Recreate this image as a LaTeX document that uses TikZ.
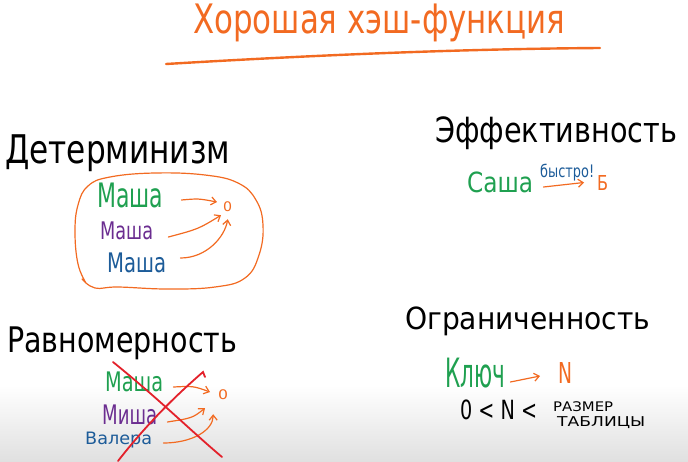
\documentclass[tikz,border=0pt]{standalone}
\usepackage{fontspec}
\setmainfont{DejaVu Sans}
\newfontfamily\hand{DejaVu Sans}
\usetikzlibrary{arrows.meta,calc}
\definecolor{hor}{HTML}{F26A21}
\definecolor{hgreen}{HTML}{1FA050}
\definecolor{hpurple}{HTML}{6B2D90}
\definecolor{hblue}{HTML}{1D5C99}
\definecolor{hred}{HTML}{E3212B}
\newcommand{\fitbox}[3]{\resizebox*{#1pt}{#2pt}{\hand #3}}
\begin{document}
\begin{tikzpicture}[x=1pt,y=-1pt,
  txt/.style={inner sep=0pt, anchor=west},
  arr/.style={draw=hor, line width=1.2pt, line cap=round, -{Straight Barb[length=5pt,width=8pt]}},
  redline/.style={draw=hred, line width=1.8pt, line cap=round}]
\useasboundingbox (0,0) rectangle (688,461);
\shade[top color=white,bottom color=black!12] (0,385) rectangle (688,461);

% title
\node[txt, text=hor] (title) at (193,23) {\fitbox{372}{38}{Хорошая хэш-функция}};
\draw[hor, line width=2.4pt, line cap=round] (166,64) .. controls (300,56) and (450,49) .. (600,48);

% Determinism
\node[txt] (det) at (5,153.5) {\fitbox{225}{37}{Детерминизм}};
\node[txt, text=hgreen] (m1) at (97,195.5) {\fitbox{66}{25}{Маша}};
\node[txt, text=hpurple] (m2) at (100,231) {\fitbox{53}{18}{Маша}};
\node[txt, text=hblue] (m3) at (107,263) {\fitbox{59}{20}{Маша}};
\node[txt, text=hor] (z1) at (223,207) {\fitbox{9}{10}{0}};
\draw[arr] ($(m1.east)+(18,4.5)$) .. controls ($(m1.east)+(35,3)$) .. ($(z1.west)+(-6,-5)$);
\draw[arr] ($(m2.east)+(15,6)$) .. controls ($(m2.east)+(45,-2)$) .. ($(z1.south west)+(-2,3)$);
\draw[arr] ($(m3.east)+(14,-5)$) .. controls ($(m3.east)+(40,-5)$) and ($(z1.south)+(-3,25)$) .. ($(z1.south)+(0,7)$);
\draw[hor, line width=1.2pt, line cap=round] plot[smooth, tension=0.7] coordinates {(86,283) (78,264) (75,232) (78,205) (88,186) (110,177) (155,173) (205,175) (238,183) (256,200) (263,225) (259,255) (245,278) (215,287) (167,289) (118,287) (95,288) (82,279)};

% Efficiency
\node[txt] (eff) at (435,133.5) {\fitbox{242}{33}{Эффективность}};
\node[txt, text=hgreen] (s) at (467,182.5) {\fitbox{66}{21}{Саша}};
\node[txt, text=hblue] (fast) at (540,172.5) {\fitbox{54}{17}{быстро!}};
\node[txt, text=hor] (b) at (597,182.5) {\fitbox{11}{15}{Б}};
\draw[arr] ($(s.east)+(10,4.5)$) -- ($(b.west)+(-13,0)$);

% Uniformity
\node[txt] (uni) at (7,343.5) {\fitbox{230}{33}{Равномерность}};
\node[txt, text=hgreen] (m4) at (105,382) {\fitbox{58}{20}{Маша}};
\node[txt, text=hpurple] (m5) at (102,415) {\fitbox{55}{20}{Миша}};
\node[txt, text=hblue] (m6) at (85,440) {\fitbox{67}{16}{Валера}};
\node[txt, text=hor] (z2) at (218,395) {\fitbox{10}{10}{0}};
\draw[arr] ($(m4.east)+(10,5)$) .. controls ($(m4.east)+(30,4)$) .. ($(z2.west)+(-8,-3)$);
\draw[arr] ($(m5.east)+(10,7)$) .. controls ($(m5.east)+(35,3)$) .. ($(z2.south west)+(-13,8)$);
\draw[arr] ($(m6.east)+(11,3)$) .. controls ($(m6.east)+(40,3)$) and ($(z2.south)+(-10,30)$) .. ($(z2.south)+(-10,14)$);
\draw[redline] (113,362) .. controls (160,400) and (190,430) .. (222,457);
\draw[redline] (118,461) .. controls (150,420) and (180,392) .. (203,372) -- (205,377);

% Boundedness
\node[txt] (bnd) at (405,321.5) {\fitbox{245}{29}{Ограниченность}};
\node[txt, text=hgreen] (k) at (445,373) {\fitbox{60}{30}{Ключ}};
\node[txt, text=hor] (n) at (558,372.5) {\fitbox{14}{21}{N}};
\draw[arr] ($(k.east)+(5,9)$) -- ($(n.west)+(-18,3.5)$);
\node[txt] (ineq) at (460,410) {\fitbox{77}{20}{0 < N <}};
\node[txt] (size1) at (553,407) {\fitbox{60}{10}{РАЗМЕР}};
\node[txt] (size2) at (557,422.5) {\fitbox{88}{12}{ТАБЛИЦЫ}};
\end{tikzpicture}
\end{document}
